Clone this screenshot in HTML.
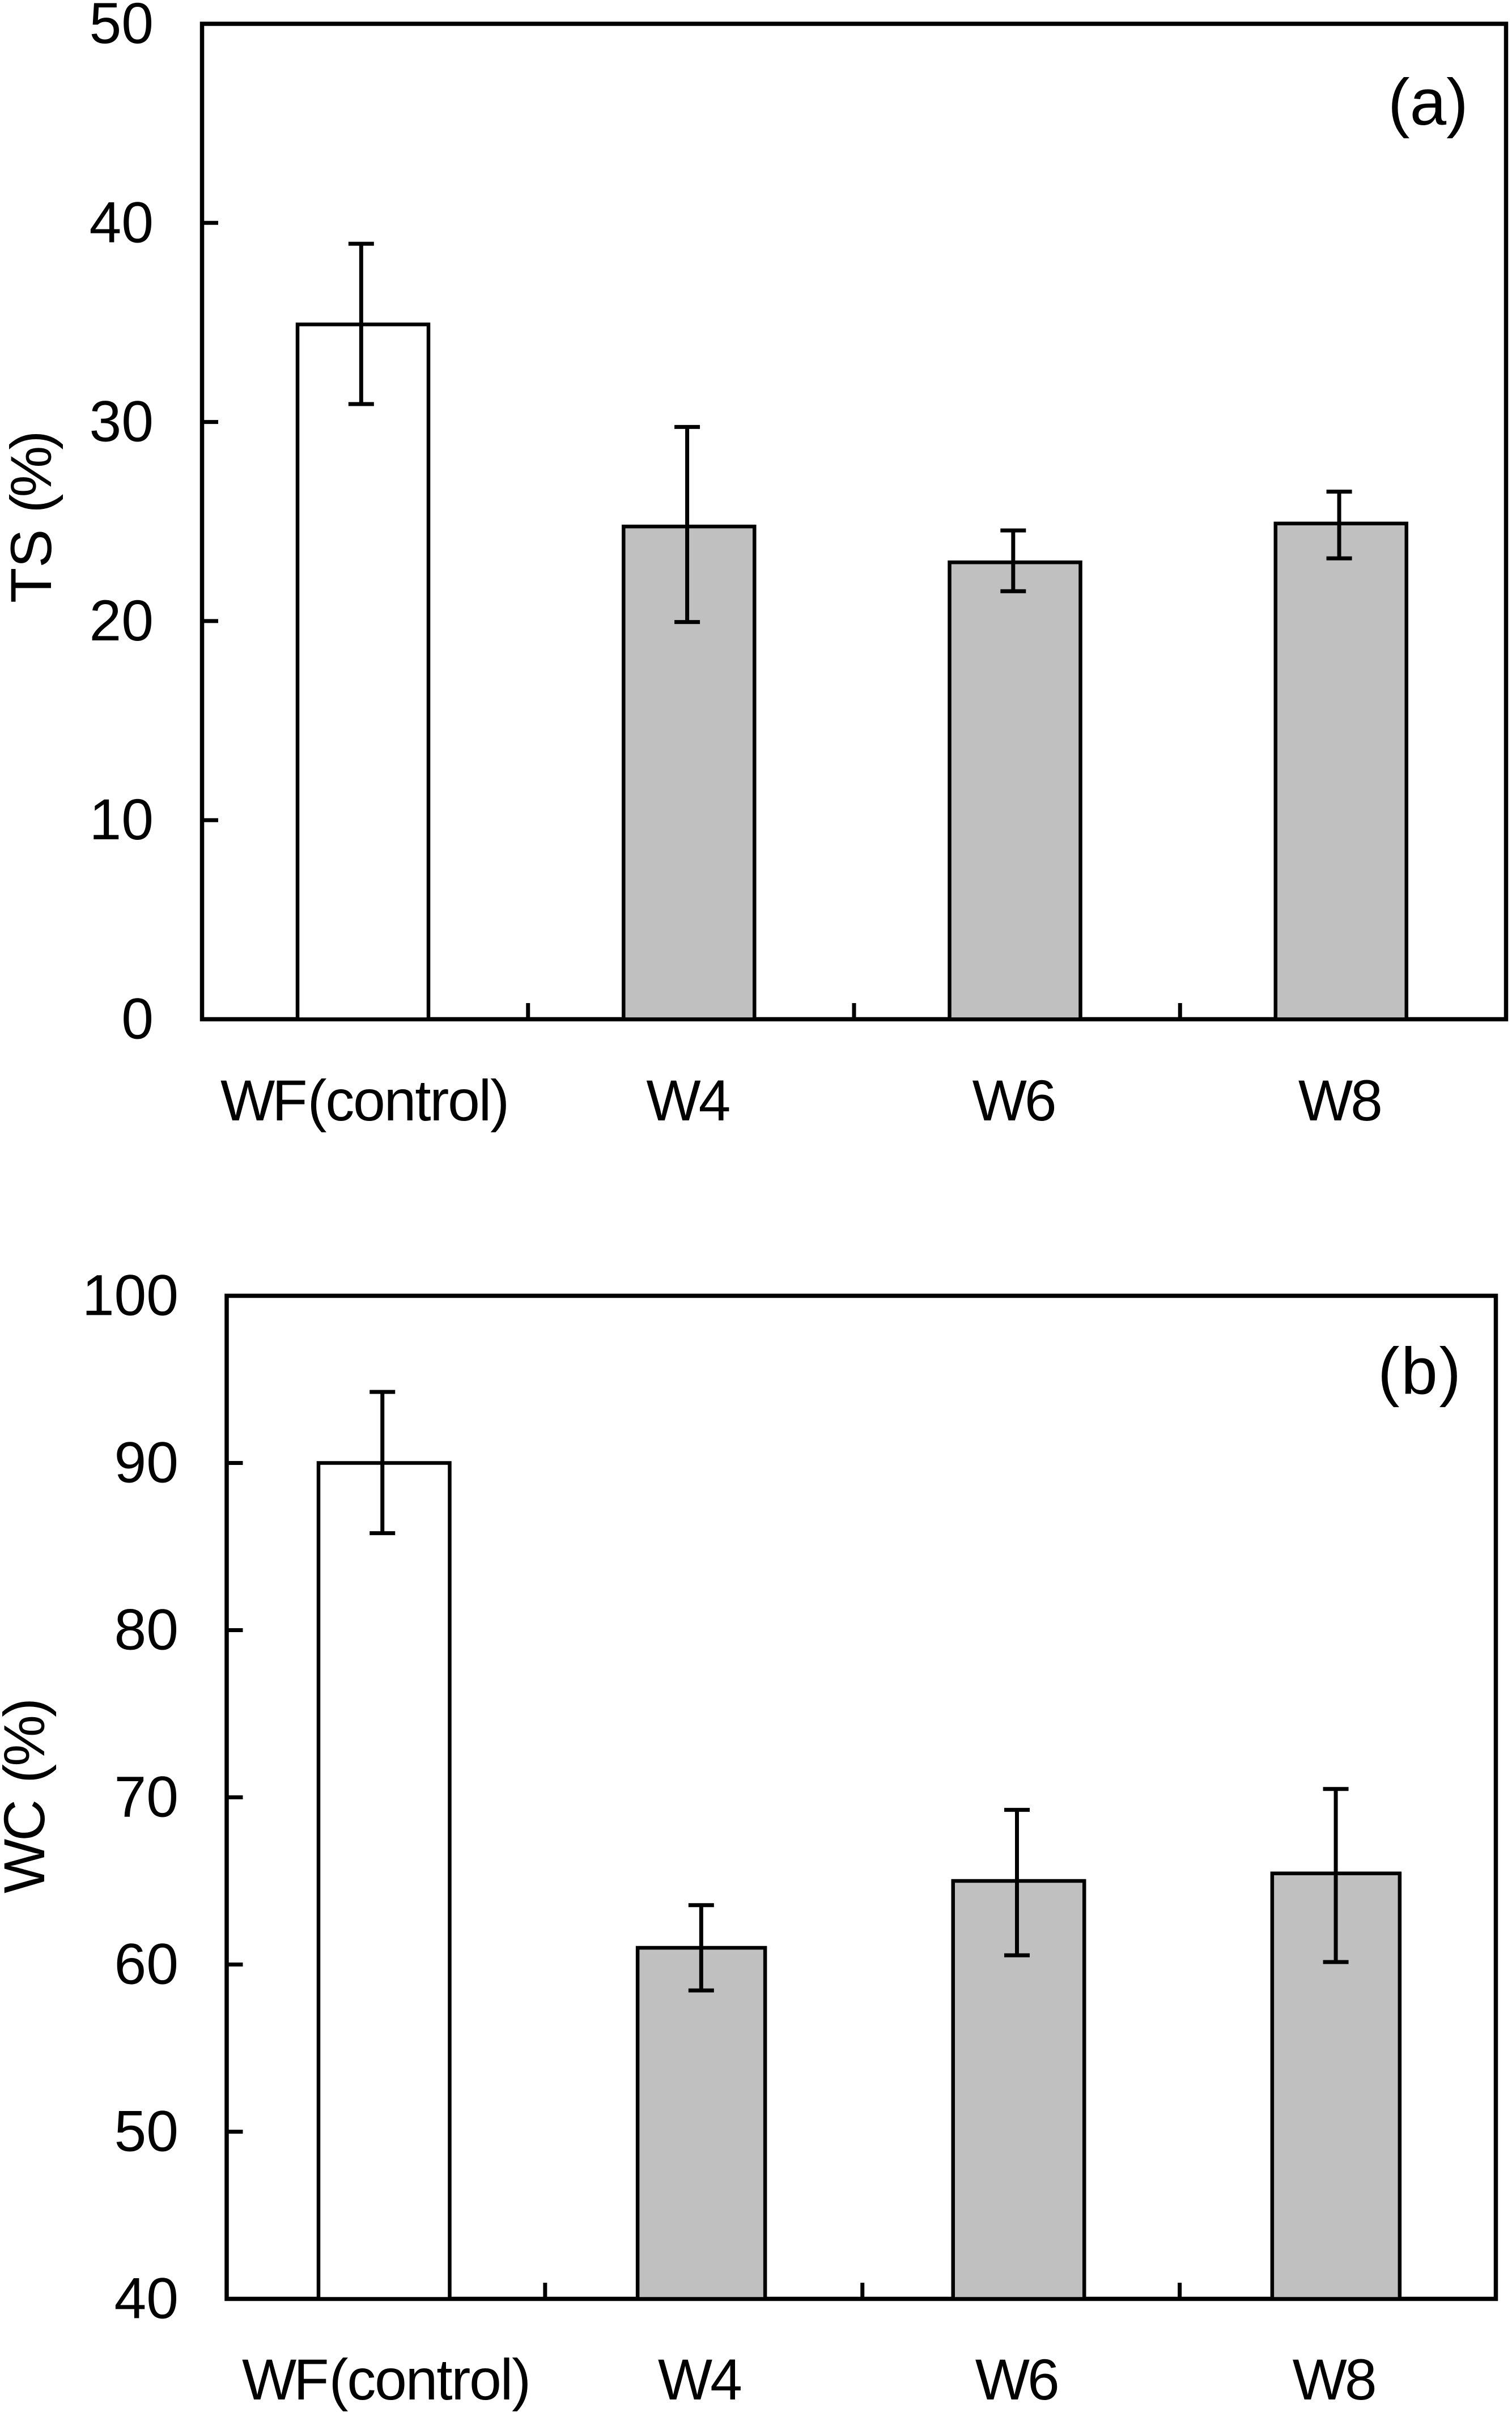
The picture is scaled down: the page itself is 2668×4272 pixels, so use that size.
<!DOCTYPE html>
<html lang="en">
<head>
<meta charset="utf-8">
<title>TS and WC bar charts</title>
<style>
  html, body { margin: 0; padding: 0; background: #fff; }
  svg { display: block; }
  text { font-family: "Liberation Sans", Arial, sans-serif; fill: #000; }
</style>
</head>
<body>
<svg id="figure" xmlns="http://www.w3.org/2000/svg" width="2668" height="4272" viewBox="0 0 2668 4272">
  <rect x="0" y="0" width="2668" height="4272" fill="#fff"/>
  <g id="panel-a"></g>
  <g id="panel-b"></g>
  <text transform="translate(90 1064) rotate(-90)" font-size="102">TS (<tspan dx="-6">%</tspan><tspan dx="-7">)</tspan></text>
  <text transform="translate(78 3341) rotate(-90)" font-size="102">W<tspan dx="-4">C</tspan> (<tspan dx="-4">%</tspan><tspan dx="-4">)</tspan></text>
  <text x="2449" y="220" font-size="116">(a)</text>
  <text x="2431" y="2459" font-size="116" textLength="147">(b)</text>
</svg>
<script>
// Shared categories
const categories = ["WF(control)", "W4", "W6", "W8"];

// Panel (a): TS (%)
const tsTicks = [0, 10, 20, 30, 40, 50];
const tsValues = [34.9, 24.75, 22.95, 24.9];
const tsErrUpper = [38.95, 29.75, 24.55, 26.5];
const tsErrLower = [30.9, 19.95, 21.5, 23.15];

// Panel (b): WC (%)
const wcTicks = [40, 50, 60, 70, 80, 90, 100];
const wcValues = [90.0, 61.0, 65.0, 65.45];
const wcErrUpper = [94.25, 63.55, 69.25, 70.5];
const wcErrLower = [85.8, 58.45, 60.55, 60.15];

const SVG_NS = "http://www.w3.org/2000/svg";

function makeLine(x1, y1, x2, y2, width) {
  const l = document.createElementNS(SVG_NS, "line");
  l.setAttribute("x1", x1);
  l.setAttribute("y1", y1);
  l.setAttribute("x2", x2);
  l.setAttribute("y2", y2);
  l.setAttribute("stroke", "#000");
  l.setAttribute("stroke-width", width);
  return l;
}

function drawPanel(target, p) {
  const yScale = v => p.bottom - (v - p.ticks[0]) / (p.ticks[p.ticks.length - 1] - p.ticks[0]) * (p.bottom - p.top);
  const step = (p.right - p.left) / p.categories.length;
  const xCenter = i => p.left + step * (i + 0.5);

  // plot frame
  const frame = document.createElementNS(SVG_NS, "rect");
  
  
  frame.setAttribute("x", p.left);
  frame.setAttribute("y", p.top);
  frame.setAttribute("width", p.right - p.left);
  frame.setAttribute("height", p.bottom - p.top);
  frame.setAttribute("fill", "#fff");
  frame.setAttribute("stroke", "#000");
  frame.setAttribute("stroke-width", 7.5);
  target.appendChild(frame);

  // y ticks and labels
  p.ticks.forEach(function (t, idx) {
    const y = yScale(t);
    if (idx > 0 && idx < p.ticks.length - 1) {
      const tick = makeLine(p.left, y, p.left + 28.5, y, 7);
      
      
      target.appendChild(tick);
    }
    const label = document.createElementNS(SVG_NS, "text");
    
    
    label.setAttribute("x", p.labelRight);
    label.setAttribute("y", y + 34);
    label.setAttribute("text-anchor", "end");
    label.setAttribute("font-size", 102);
    label.textContent = String(t);
    target.appendChild(label);
  });

  // x ticks between categories
  for (let i = 1; i < p.categories.length; i++) {
    const x = p.left + step * i + p.tickOffset;
    const tick = makeLine(x, p.bottom, x, p.bottom - 28.5, 7);
    
    
    target.appendChild(tick);
  }

  // bars, error bars, category labels
  p.categories.forEach(function (cat, i) {
    const even = i % 2 === 0;
    const cx = xCenter(i) + p.barOffset;
    const w = even ? p.barWidthEven : p.barWidthOdd;
    const top = yScale(p.values[i]);
    const bar = document.createElementNS(SVG_NS, "rect");
    
    
    bar.setAttribute("x", cx - w / 2);
    bar.setAttribute("y", top);
    bar.setAttribute("width", w);
    bar.setAttribute("height", p.bottom - top);
    bar.setAttribute("fill", i === 0 ? "#ffffff" : "#c0c0c0");
    bar.setAttribute("stroke", "#000");
    bar.setAttribute("stroke-width", 6.5);
    target.appendChild(bar);

    const ex = xCenter(i) + (even ? p.errOffsetEven : p.errOffsetOdd);
    const yUp = yScale(p.errUpper[i]);
    const yLo = yScale(p.errLower[i]);
    const stem = makeLine(ex, yUp, ex, yLo, 7);
    
    
    target.appendChild(stem);
    const capUp = makeLine(ex - 22.5, yUp, ex + 22.5, yUp, 7);
    
    
    target.appendChild(capUp);
    const capLo = makeLine(ex - 22.5, yLo, ex + 22.5, yLo, 7);
    
    
    target.appendChild(capLo);

    const label = document.createElementNS(SVG_NS, "text");
    
    
    label.setAttribute("y", p.labelBaseline);
    label.setAttribute("font-size", 102);
    const paren = cat.indexOf("(");
    if (paren > 0) {
      label.setAttribute("x", p.longLabelStart);
      const head = document.createElementNS(SVG_NS, "tspan");
      head.setAttribute("letter-spacing", "-5");
      head.textContent = cat.slice(0, paren);
      label.appendChild(head);
      const tail = document.createElementNS(SVG_NS, "tspan");
      tail.setAttribute("dx", "5");
      tail.setAttribute("letter-spacing", "-2.2");
      tail.textContent = cat.slice(paren);
      label.appendChild(tail);
    } else {
      label.setAttribute("x", xCenter(i) - 6.5);
      label.setAttribute("text-anchor", "middle");
      label.setAttribute("letter-spacing", "-4");
      label.textContent = cat;
    }
    target.appendChild(label);
  });
}

drawPanel(document.getElementById("panel-a"), {
  left: 356.5, right: 2657.5, top: 42, bottom: 1798.5,
  ticks: tsTicks, categories: categories,
  values: tsValues, errUpper: tsErrUpper, errLower: tsErrLower,
  barWidthEven: 231, barWidthOdd: 231, barOffset: -3.6,
  errOffsetEven: -6.8, errOffsetOdd: -6.8, tickOffset: 0,
  labelRight: 271, labelBaseline: 1977, longLabelStart: 389
});

drawPanel(document.getElementById("panel-b"), {
  left: 400, right: 2639.5, top: 2286.5, bottom: 4056.5,
  ticks: wcTicks, categories: categories,
  values: wcValues, errUpper: wcErrUpper, errLower: wcErrLower,
  barWidthEven: 231.5, barWidthOdd: 225, barOffset: -2.2,
  errOffsetEven: -5.2, errOffsetOdd: -2.5, tickOffset: 2,
  labelRight: 315, labelBaseline: 4234, longLabelStart: 427
});
</script>
</body>
</html>
